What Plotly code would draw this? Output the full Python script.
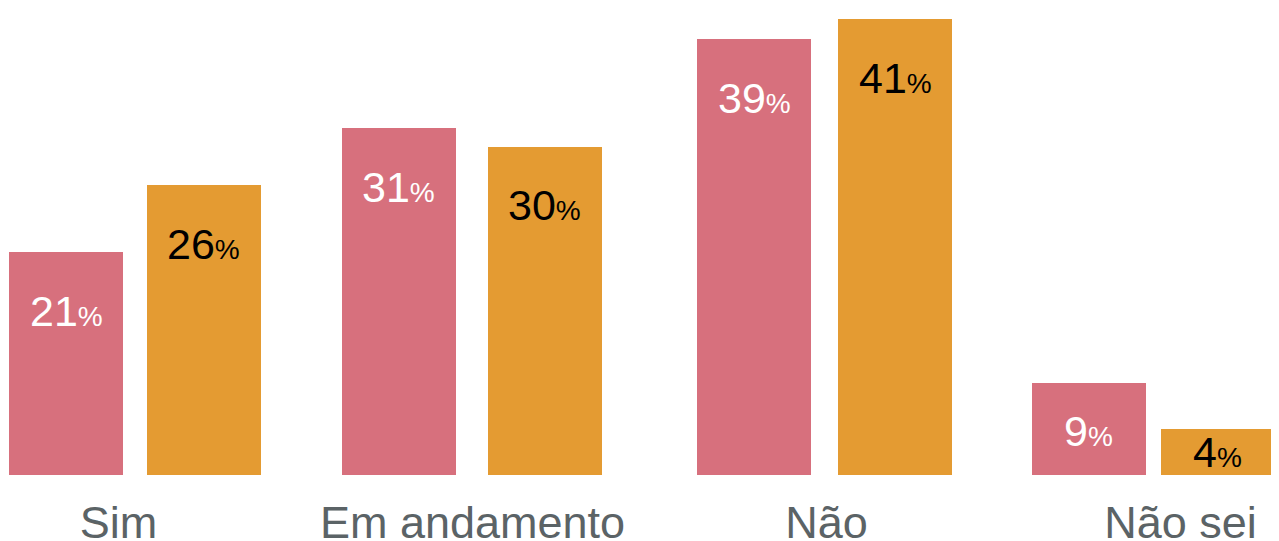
import plotly.graph_objects as go

categories = ["Sim", "Em andamento", "Não", "Não sei"]
series_a = [20.05, 31.2, 39.2, 8.27]      # pink series (bar heights)
series_b = [26.08, 29.5, 41.0, 4.14]      # orange series (bar heights)
labels_a = [21, 31, 39, 9]
labels_b = [26, 30, 41, 4]

# layout/styling (positions relative to category centre, in category units)
offsets_a = [-0.309, -0.3686, -0.3644, -0.4195]
offsets_b = [0.0805, 0.0438, 0.0339, -0.0551]
bar_w = 0.322
color_a = "#d7707d"
color_b = "#e49b32"
font = "Liberation Sans, Arial, Helvetica, sans-serif"

W, H = 1279, 541
mb = 74
y_max = 42.0
px_per_unit = (H - mb) / y_max

fig = go.Figure()
fig.add_trace(go.Bar(x=categories, y=series_a, offset=offsets_a, width=[bar_w]*4,
                     marker=dict(color=color_a, line=dict(width=0)), hoverinfo="skip"))
fig.add_trace(go.Bar(x=categories, y=series_b, offset=offsets_b, width=[bar_w]*4,
                     marker=dict(color=color_b, line=dict(width=0)), hoverinfo="skip"))

annotations = []
for vals, labs, offs, col in [(series_a, labels_a, offsets_a, "white"),
                              (series_b, labels_b, offsets_b, "black")]:
    for i, (v, lab, off) in enumerate(zip(vals, labs, offs)):
        hpx = v * px_per_unit
        shift = -(min(60, 0.54 * hpx) - 1.5)
        annotations.append(dict(
            x=i + off + bar_w / 2, y=v, xref="x", yref="y",
            text=f"{lab}<span style='font-size:28px'>%</span>",
            showarrow=False, yanchor="middle", yshift=shift,
            font=dict(family=font, size=43, color=col)))

fig.update_layout(
    width=W, height=H,
    margin=dict(l=0, r=0, t=0, b=mb),
    paper_bgcolor="white", plot_bgcolor="white",
    showlegend=False,
    bargap=0,
    annotations=annotations,
    xaxis=dict(range=[-0.3121, 3.3009], showgrid=False, zeroline=False, showline=False,
               ticks="", ticklabelstandoff=17,
               tickfont=dict(family=font, size=45, color="#5b6366"),
               fixedrange=True),
    yaxis=dict(range=[0, y_max], visible=False, fixedrange=True),
)
fig.write_html("out.html", config={"displayModeBar": False})
